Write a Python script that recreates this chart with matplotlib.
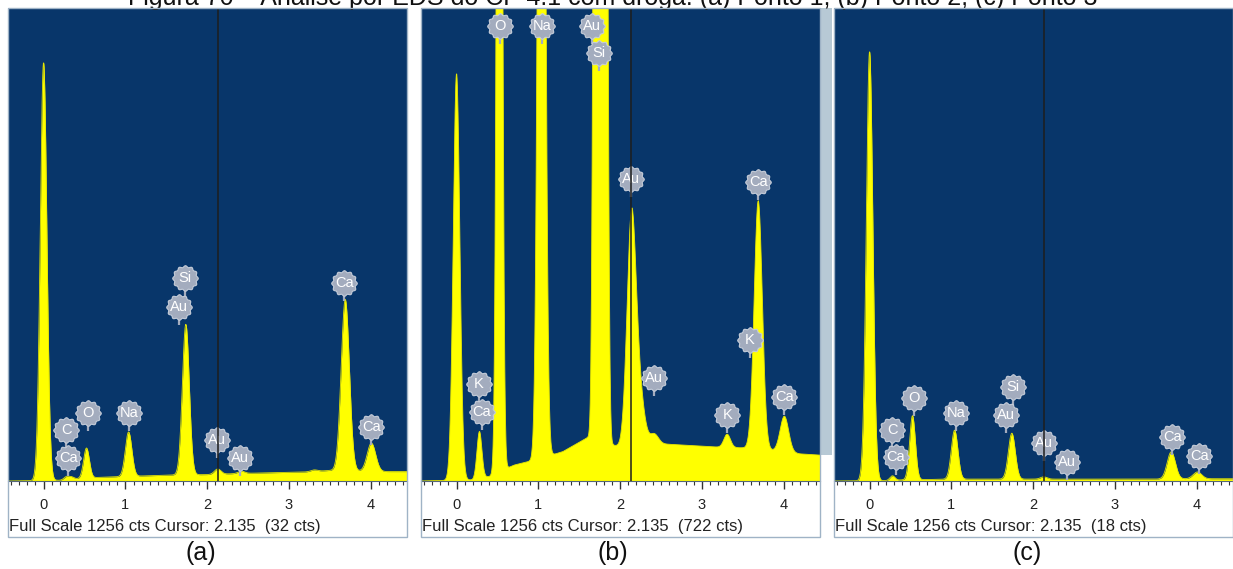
import numpy as np
import matplotlib
matplotlib.use("Agg")
import matplotlib.pyplot as plt
from matplotlib.path import Path
from matplotlib.patches import Rectangle
from matplotlib.transforms import offset_copy
from matplotlib.ticker import MultipleLocator

plt.rcParams['font.family'] = ['Liberation Sans', 'DejaVu Sans']

W, H = 1233, 569
FULL_SCALE = 1256
CURSOR_KEV = 2.135
TITLE = "Figura 70 – Análise por EDS do CP 4.1 com droga: (a) Ponto 1; (b) Ponto 2; (c) Ponto 3"
PANEL_TAGS = ["(a)", "(b)", "(c)"]
CURSOR_COUNTS = [32, 722, 18]
X_TICKS = [0, 1, 2, 3, 4]

# Continuum level (cts) sampled along the energy axis (keV)
BG_E = [-0.45, 0.2, 0.4, 0.7, 1.0, 1.3, 1.6, 2.0, 2.4, 2.8, 3.2, 3.5, 3.9, 4.2, 4.5]
BG_A = [0, 2, 6, 10, 12, 14, 16, 17, 20, 22, 24, 28, 26, 25, 25]
BG_B = [0, 3, 12, 42, 58, 78, 115, 90, 100, 95, 90, 88, 80, 72, 68]
BG_C = [0, 1, 3, 4, 5, 5, 5, 5, 5, 5, 5, 5, 6, 6, 6]

# Peaks: centre (keV), height above continuum (cts), sigma (keV)
PK_E_A = [0.00, 0.28, 0.34, 0.525, 1.04, 1.74, 2.13, 2.42, 3.31, 3.69, 4.01]
PK_H_A = [1110, 8, 6, 80, 118, 400, 14, 6, 4, 455, 75]
PK_S_A = [0.040, 0.03, 0.03, 0.035, 0.040, 0.042, 0.04, 0.04, 0.04, 0.050, 0.052]

PK_E_B = [0.00, 0.28, 0.525, 1.04, 1.70, 1.76, 1.82, 2.14, 2.24, 2.42, 3.31, 3.69, 4.01]
PK_H_B = [1080, 125, 4000, 3640, 3000, 3000, 3000, 600, 120, 25, 35, 660, 95]
PK_S_B = [0.040, 0.030, 0.028, 0.0376, 0.025, 0.025, 0.025, 0.055, 0.06, 0.05, 0.04, 0.050, 0.052]

PK_E_C = [0.00, 0.28, 0.525, 1.04, 1.74, 2.13, 3.69, 4.01]
PK_H_C = [1140, 12, 170, 130, 122, 6, 72, 18]
PK_S_C = [0.040, 0.03, 0.035, 0.040, 0.042, 0.04, 0.050, 0.052]

# Element markers: symbol, energy (keV), height (cts)
LB_N_A = ["C", "Ca", "O", "Na", "Si", "Au", "Au", "Au", "Ca", "Ca"]
LB_X_A = [0.28, 0.30, 0.54, 1.05, 1.73, 1.66, 2.12, 2.40, 3.68, 4.01]
LB_Y_A = [135, 61, 180, 180, 538, 461, 109, 61, 525, 143]

LB_N_B = ["O", "Na", "Au", "Si", "Au", "Ca", "K", "Ca", "Au", "K", "K", "Ca"]
LB_X_B = [0.53, 1.05, 1.66, 1.74, 2.13, 3.69, 0.27, 0.31, 2.41, 3.31, 3.59, 4.01]
LB_Y_B = [1208, 1208, 1208, 1137, 803, 795, 257, 183, 273, 175, 374, 223]

LB_N_C = ["C", "Ca", "O", "Na", "Si", "Au", "Au", "Au", "Ca", "Ca"]
LB_X_C = [0.28, 0.32, 0.54, 1.06, 1.75, 1.67, 2.13, 2.42, 3.70, 4.03]
LB_Y_C = [135, 64, 220, 180, 249, 175, 101, 50, 117, 66]

PANELS = [
    (BG_A, PK_E_A, PK_H_A, PK_S_A, LB_N_A, LB_X_A, LB_Y_A),
    (BG_B, PK_E_B, PK_H_B, PK_S_B, LB_N_B, LB_X_B, LB_Y_B),
    (BG_C, PK_E_C, PK_H_C, PK_S_C, LB_N_C, LB_X_C, LB_Y_C),
]

NAVY = "#08366a"
YELLOW = "#ffff00"
BADGE = "#a3acbe"
BADGE_EDGE = "#c6cdd9"
FRAME = "#9fb3c6"

# scalloped badge outline
th = np.linspace(0, 2 * np.pi, 97)
rr = 1 + 0.07 * np.cos(12 * th)
SCALLOP = Path(np.column_stack([rr * np.cos(th), rr * np.sin(th)]), closed=True)

fig = plt.figure(figsize=(W / 100, H / 100), dpi=100)
fig.patch.set_facecolor("white")

def fx(px):
    return px / W

def fy(py):
    return 1 - py / H

fig.text(fx(613), fy(5), TITLE, ha="center", va="baseline", fontsize=18, color="#111111")

LEFTS = [8, 421, 834]
TAG_X = [201, 613, 1027]
TOP, BOT, WIDTH = 8, 481, 399
XLIM = (-0.435, 4.445)

energy = np.arange(-0.45, 4.5, 0.004)

for i, (bg, pe, ph, ps, ln, lx, ly) in enumerate(PANELS):
    left = LEFTS[i]
    ax = fig.add_axes([fx(left), fy(BOT), WIDTH / W, (BOT - TOP) / H])
    ax.set_facecolor(NAVY)

    spec = np.interp(energy, BG_E, bg)
    for c, h, s in zip(pe, ph, ps):
        spec = spec + h * np.exp(-(energy - c) ** 2 / (2 * s ** 2))
    ax.fill_between(energy, 0, spec, color=YELLOW, lw=0, zorder=2)
    ax.plot(energy, spec, color="#e6e600", lw=0.6, zorder=2)

    ax.set_xlim(*XLIM)
    ax.set_ylim(0, FULL_SCALE)
    ax.set_yticks([])
    ax.xaxis.set_major_locator(MultipleLocator(1))
    ax.xaxis.set_minor_locator(MultipleLocator(0.1))
    ax.set_xticks(X_TICKS)
    ax.tick_params(axis="x", which="major", direction="out", length=6, width=1,
                   color="#333333", labelsize=10.5, labelcolor="#222222", pad=6)
    ax.tick_params(axis="x", which="minor", direction="out", length=3, width=0.8,
                   color="#333333")
    for side in ("top", "left", "right"):
        ax.spines[side].set_visible(False)
    ax.spines["bottom"].set_color("#55677a")
    ax.spines["bottom"].set_linewidth(0.8)

    # element badges with their short stems
    stem_tr = offset_copy(ax.transData, fig=fig, x=0, y=-14, units="dots")
    for name, x, y in zip(ln, lx, ly):
        ax.plot([x], [y], marker="|", ms=6, mew=1.6, color=BADGE,
                transform=stem_tr, zorder=4, clip_on=False)
        ax.scatter([x], [y], s=340, marker=SCALLOP, facecolor=BADGE,
                   edgecolor=BADGE_EDGE, linewidth=0.8, zorder=5, clip_on=False)
        ax.text(x, y, name, color="white", ha="center", va="center",
                fontsize=10.5, zorder=6)

    ax.axvline(CURSOR_KEV, color="#1e1e1e", lw=1.1, zorder=7)

    fig.text(fx(left + 1), fy(527),
             f"Full Scale {FULL_SCALE} cts Cursor: {CURSOR_KEV:.3f}  ({CURSOR_COUNTS[i]} cts)",
             ha="left", va="center", fontsize=12, color="#222222")

    fig.patches.append(Rectangle((fx(left), fy(537)), WIDTH / W, (537 - TOP) / H,
                                 transform=fig.transFigure, fill=False,
                                 edgecolor=FRAME, lw=1, zorder=10))

    fig.text(fx(TAG_X[i]), fy(553), PANEL_TAGS[i], ha="center", va="center",
             fontsize=18, color="#111111")

fig.patches.append(Rectangle((fx(821), fy(455)), 11 / W, (455 - TOP) / H,
                             transform=fig.transFigure, facecolor="#b7c9d5",
                             edgecolor="none", zorder=1))

fig.savefig("out.png", dpi=100, facecolor="white")
